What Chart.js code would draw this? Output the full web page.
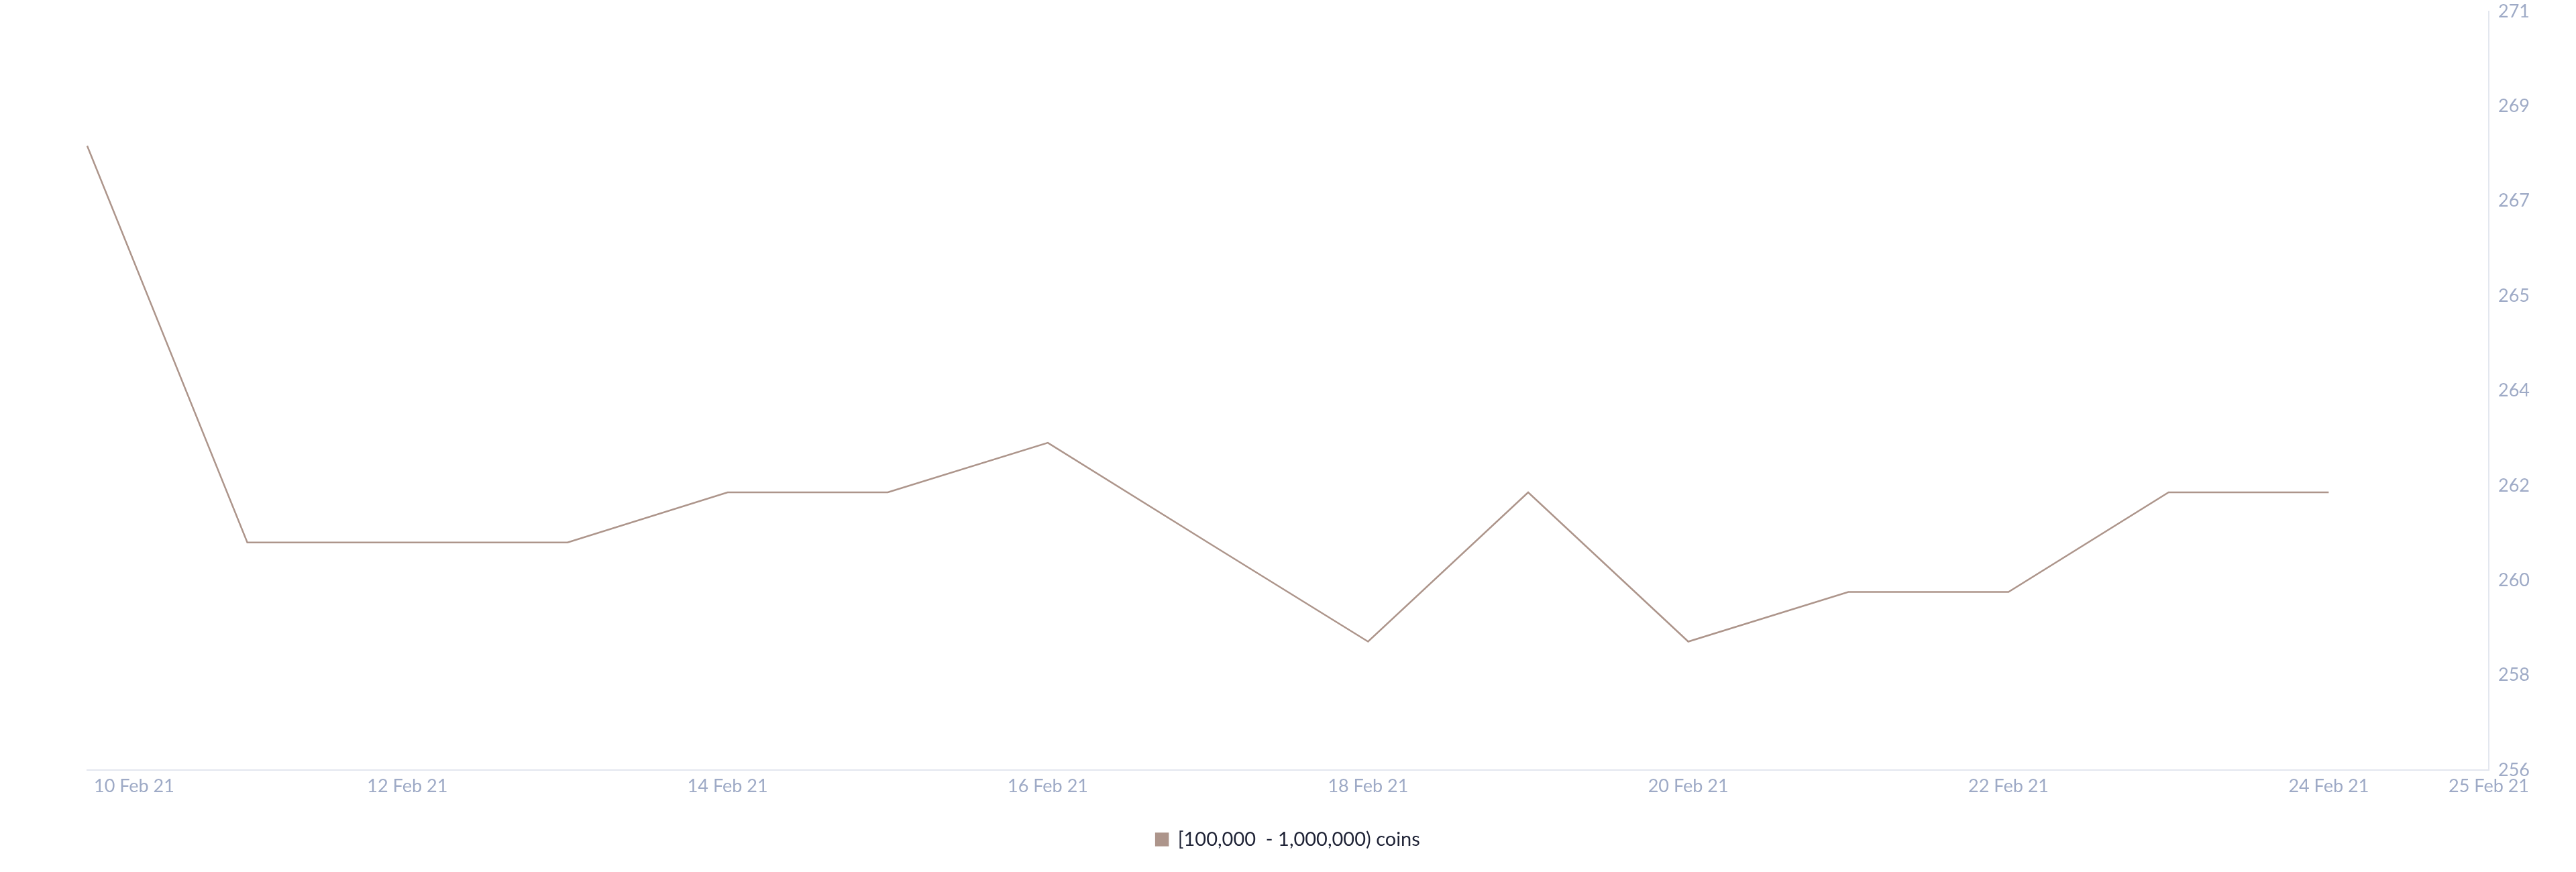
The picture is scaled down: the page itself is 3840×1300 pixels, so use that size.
<!DOCTYPE html>
<html>
<head>
<meta charset="utf-8">
<title>Holders [100,000 - 1,000,000) coins</title>
<script src="https://cdn.jsdelivr.net/npm/chart.js@4/dist/chart.umd.min.js"></script>
<style>
    html, body { margin: 0; padding: 0; background: #ffffff; }
    #wrap { width: 3840px; height: 1300px; position: relative; }
</style>
</head>
<body>
<div id="wrap"><canvas id="holdersChart"></canvas></div>
<script>
// Chart data
const dates = ['10 Feb 21', '11 Feb 21', '12 Feb 21', '13 Feb 21', '14 Feb 21', '15 Feb 21', '16 Feb 21', '17 Feb 21',
    '18 Feb 21', '19 Feb 21', '20 Feb 21', '21 Feb 21', '22 Feb 21', '23 Feb 21', '24 Feb 21', '25 Feb 21'];
const holders = [268.34, 260.5, 260.5, 260.5, 261.49, 261.49, 262.47, 260.5,
    258.54, 261.49, 258.54, 259.52, 259.52, 261.49, 261.49];
const xTickDates = ['10 Feb 21', '12 Feb 21', '14 Feb 21', '16 Feb 21', '18 Feb 21', '20 Feb 21', '22 Feb 21', '24 Feb 21', '25 Feb 21'];
const yTickLabels = ['256', '258', '260', '262', '264', '265', '267', '269', '271'];
const yMin = 256;
const yMax = 271;
const seriesName = '[100,000  - 1,000,000) coins';

const lineColor = '#ad958b';
const tickColor = '#9eaac6';
const axisColor = '#e3e7ef';
const tickFont = { family: 'Lato', size: 27 };

Chart.defaults.font.family = 'Lato';

// draws the x labels so the first one can sit to the right of its tick
const xLabelsPlugin = {
    id: 'xLabels',
    afterLayout(chart) {
        // center the legend on the whole canvas, not the padded area
        chart.legend.left = 0;
        chart.legend.right = chart.width;
    },
    afterDraw(chart) {
        const ctx = chart.ctx;
        const x = chart.scales.x;
        ctx.save();
        ctx.font = tickFont.size + 'px ' + tickFont.family;
        ctx.fillStyle = tickColor;
        ctx.textBaseline = 'middle';
        xTickDates.forEach(function(label, i) {
            const px = x.getPixelForValue(dates.indexOf(label));
            if (i === 0) {
                ctx.textAlign = 'left';
                ctx.fillText(label, px + 10, x.top + 24);
            } else {
                ctx.textAlign = 'center';
                ctx.fillText(label, px, x.top + 24);
            }
        });
        ctx.restore();
    }
};

const ctx = document.getElementById('holdersChart').getContext('2d');
new Chart(ctx, {
    type: 'line',
    data: {
        labels: dates,
        datasets: [{
            label: seriesName,
            data: holders,
            borderColor: lineColor,
            backgroundColor: lineColor,
            borderWidth: 2.5,
            pointRadius: 0,
            pointHoverRadius: 0,
            tension: 0,
            fill: false
        }]
    },
    options: {
        responsive: true,
        maintainAspectRatio: false,
        animation: false,
        layout: {
            padding: { left: 130, right: 55, top: 0, bottom: 24 }
        },
        plugins: {
            legend: {
                position: 'bottom',
                labels: {
                    boxWidth: 18,
                    boxHeight: 18,
                    padding: 20,
                    color: '#1f2336',
                    font: { family: 'Lato', size: 29 }
                }
            },
            tooltip: { enabled: false }
        },
        scales: {
            x: {
                offset: false,
                grid: { display: false, drawTicks: false },
                border: { display: true, color: axisColor, width: 2 },
                ticks: { display: false },
                afterFit: function(scale) { scale.height = 69; }
            },
            y: {
                position: 'right',
                min: yMin,
                max: yMax,
                grid: { display: false, drawTicks: false },
                border: { display: true, color: axisColor, width: 2 },
                afterBuildTicks: function(axis) {
                    const step = (yMax - yMin) / (yTickLabels.length - 1);
                    axis.ticks = yTickLabels.map((_, i) => ({ value: yMin + i * step }));
                },
                afterFit: function(scale) {
                    scale.paddingTop = 17;
                    scale.paddingBottom = 17;
                },
                ticks: {
                    color: tickColor,
                    font: tickFont,
                    padding: 14,
                    callback: function(value, index) { return yTickLabels[index]; }
                }
            }
        }
    },
    plugins: [xLabelsPlugin]
});
</script>
</body>
</html>
